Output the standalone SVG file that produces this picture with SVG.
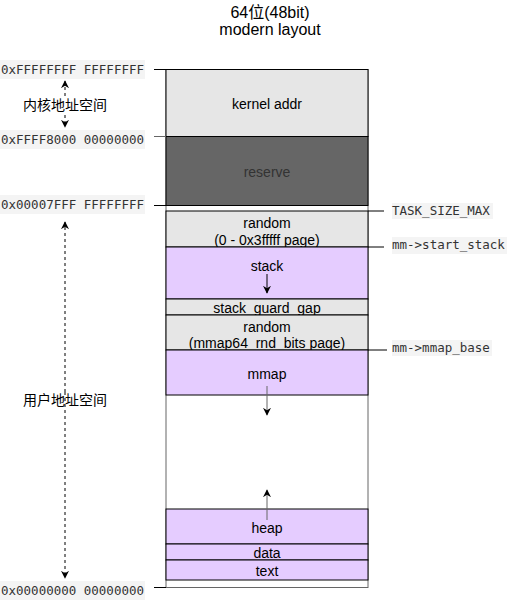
<svg xmlns="http://www.w3.org/2000/svg" width="515" height="601" viewBox="0 0 515 601">
<defs>
<style>
.t{font-family:"Liberation Sans",Arial,sans-serif;font-size:14px;fill:#000;text-anchor:middle}
.cjk{font-family:"Liberation Sans","Noto Sans CJK SC",sans-serif;font-size:14px;fill:#000;text-anchor:middle}
.m{font-family:"DejaVu Sans Mono","Liberation Mono",monospace;font-size:12.5px;fill:#333}
.lbg{fill:#f4f4f4}
.ln{stroke:#000;stroke-width:1;fill:none}
.cell{stroke:#000;stroke-width:1}
.pur{fill:#e5ccff}
.dash{stroke:#000;stroke-width:1;stroke-dasharray:3 3;fill:none}
</style>
<marker id="ah" viewBox="0 0 10 10" refX="9" refY="5" markerWidth="8" markerHeight="8" markerUnits="userSpaceOnUse" orient="auto">
<path d="M0,0 L10,5 L0,10 L3,5 z" fill="#000"/>
</marker>
</defs>
<rect width="515" height="601" fill="#fff"/>

<g id="title">
<text class="cjk" x="270" y="18" style="font-size:16px">64位(48bit)</text>
<text class="t" x="270" y="35" style="font-size:16px">modern layout</text>
</g>

<g id="outer">
<rect x="166" y="69.5" width="202" height="518" fill="#fff" stroke="#666" stroke-width="1"/>
</g>

<g id="kernel">
<rect class="cell" x="166" y="69.5" width="202" height="67" fill="#e6e6e6"/>
<text class="t" x="267" y="109">kernel addr</text>
</g>
<g id="reserve">
<rect class="cell" x="166" y="136.5" width="202" height="69" fill="#666"/>
<text class="t" x="267" y="177" style="fill:#333">reserve</text>
</g>
<g id="random1">
<rect class="cell" x="166" y="211" width="202" height="36" fill="#e6e6e6"/>
<text class="t" x="267" y="228">random</text>
<text class="t" x="267" y="245">(0 - 0x3fffff page)</text>
</g>
<g id="stack">
<rect class="cell pur" x="166" y="247" width="202" height="52"/>
<text class="t" x="267" y="271">stack</text>
</g>
<g id="guard">
<rect class="cell" x="166" y="299" width="202" height="16" fill="#e6e6e6"/>
<text class="t" x="267" y="313">stack_guard_gap</text>
</g>
<g id="random2">
<rect class="cell" x="166" y="315" width="202" height="35" fill="#e6e6e6"/>
<text class="t" x="267" y="331.5">random</text>
<text class="t" x="267" y="347.5">(mmap64_rnd_bits page)</text>
</g>
<g id="mmap">
<rect class="cell pur" x="166" y="350" width="202" height="45"/>
<text class="t" x="267" y="379">mmap</text>
</g>
<g id="heap">
<rect class="cell pur" x="166" y="509" width="202" height="35"/>
<text class="t" x="267" y="533">heap</text>
</g>
<g id="data">
<rect class="cell pur" x="166" y="544" width="202" height="16"/>
<text class="t" x="267" y="557.5">data</text>
</g>
<g id="text">
<rect class="cell pur" x="166" y="560" width="202" height="20"/>
<text class="t" x="267" y="575.5">text</text>
</g>

<g id="addr-labels">
<rect class="lbg" x="0" y="60" width="145" height="19"/>
<text class="m" x="1" y="74">0xFFFFFFFF FFFFFFFF</text>
<rect class="lbg" x="0" y="130" width="145" height="19"/>
<text class="m" x="1" y="144">0xFFFF8000 00000000</text>
<rect class="lbg" x="0" y="195" width="145" height="19"/>
<text class="m" x="1" y="209">0x00007FFF FFFFFFFF</text>
<rect class="lbg" x="0" y="581" width="145" height="19"/>
<text class="m" x="1" y="595">0x00000000 00000000</text>
</g>
<g id="ptr-labels">
<rect class="lbg" x="392" y="203" width="101" height="16"/>
<text class="m" x="392" y="215">TASK_SIZE_MAX</text>
<rect class="lbg" x="392" y="237" width="115" height="17"/>
<text class="m" x="392" y="249">mm-&gt;start_stack</text>
<rect class="lbg" x="392" y="340" width="100" height="16"/>
<text class="m" x="392" y="352">mm-&gt;mmap_base</text>
</g>
<g id="space-labels">
<text class="cjk" x="65" y="110">内核地址空间</text>
<text class="cjk" x="65" y="405">用户地址空间</text>
</g>

<g id="connectors">
<line class="ln" x1="154" y1="69.5" x2="166" y2="69.5"/>
<line x1="154" y1="136.5" x2="166" y2="136.5" stroke="#666"/>
<line class="ln" x1="154" y1="205.5" x2="166" y2="205.5"/>
<line class="ln" x1="154" y1="587.5" x2="166" y2="587.5"/>
<line class="ln" x1="368" y1="211" x2="384" y2="211"/>
<line class="ln" x1="368" y1="247" x2="384" y2="247"/>
<line class="ln" x1="368" y1="350" x2="387" y2="350"/>
<line class="dash" x1="65" y1="96" x2="65" y2="81" marker-end="url(#ah)"/>
<line class="dash" x1="65" y1="115" x2="65" y2="127" marker-end="url(#ah)"/>
<line class="dash" x1="65" y1="392" x2="65" y2="222" marker-end="url(#ah)"/>
<line class="dash" x1="65" y1="392" x2="65" y2="578" marker-end="url(#ah)"/>
<line class="ln" x1="267" y1="274" x2="267" y2="293" marker-end="url(#ah)"/>
<line x1="267" y1="386" x2="267" y2="415" stroke="#666" marker-end="url(#ah)"/>
<line x1="267" y1="520" x2="267" y2="490" stroke="#666" marker-end="url(#ah)"/>
</g>
</svg>
